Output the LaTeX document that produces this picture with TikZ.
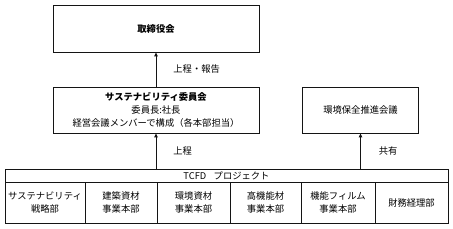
\documentclass[tikz,border=0pt]{standalone}
\usepackage{fontspec}
\setmainfont{Noto Sans CJK JP}
\usepackage{tikz}
\usetikzlibrary{arrows.meta,positioning,calc}
\definecolor{linegray}{RGB}{20,20,20}

\tikzset{
  orgbox/.style={draw=linegray,line width=0.8pt,align=center,inner sep=0pt,
                 font=\fontsize{9.3}{12.5}\selectfont},
  cellbox/.style={orgbox,minimum height=41pt},
  upflow/.style={draw=linegray,line width=0.8pt,-{Triangle[length=4pt,width=3.5pt]}},
  flowlabel/.style={font=\fontsize{9.3}{12.5}\selectfont,anchor=west,inner sep=0pt}
}

\begin{document}
\begin{tikzpicture}[x=1pt,y=-1pt]
    \useasboundingbox (0,0) rectangle (453,229);
    % upper level
    \node[orgbox,minimum width=206pt,minimum height=47pt] (board) at (156,28.5)
      {\textbf{取締役会}};
    \node[orgbox,minimum width=206pt,minimum height=46pt,
          font=\fontsize{9.3}{13}\selectfont,text depth=2pt] (committee) at (156,110)
      {\textbf{サステナビリティ委員会}\\委員長:社長\\経営会議メンバーで構成（各本部担当）};
    \node[orgbox,minimum width=116pt,minimum height=46pt] (envcouncil) at (360.5,110)
      {環境保全推進会議};
    % project
    \node[orgbox,minimum width=443pt,minimum height=13pt] (tcfd) at (226.5,175.5)
      {TCFD\hspace{0.8em}プロジェクト};
    \node[cellbox,minimum width=80pt] (dept1) at (45,202.5) {サステナビリティ\\戦略部};
    \node[cellbox,minimum width=72pt] (dept2) at (121,202.5) {建築資材\\事業本部};
    \node[cellbox,minimum width=73pt] (dept3) at (193.5,202.5) {環境資材\\事業本部};
    \node[cellbox,minimum width=71pt] (dept4) at (265.5,202.5) {高機能材\\事業本部};
    \node[cellbox,minimum width=74pt] (dept5) at (338,202.5) {機能フィルム\\事業本部};
    \node[cellbox,minimum width=73pt] (dept6) at (411.5,202.5) {財務経理部};
    % connectors
    \draw[upflow] (committee.north) -- (board.south)
      node[flowlabel,pos=0.5,xshift=17pt] (lblreport) {上程・報告};
    \draw[upflow] (committee.south |- tcfd.north) -- (committee.south)
      node[flowlabel,pos=0.5,xshift=17pt] (lblsubmit) {上程};
    \draw[upflow] (envcouncil.south |- tcfd.north) -- (envcouncil.south)
      node[flowlabel,pos=0.5,xshift=18pt] (lblshare) {共有};
  \end{tikzpicture}
\end{document}
